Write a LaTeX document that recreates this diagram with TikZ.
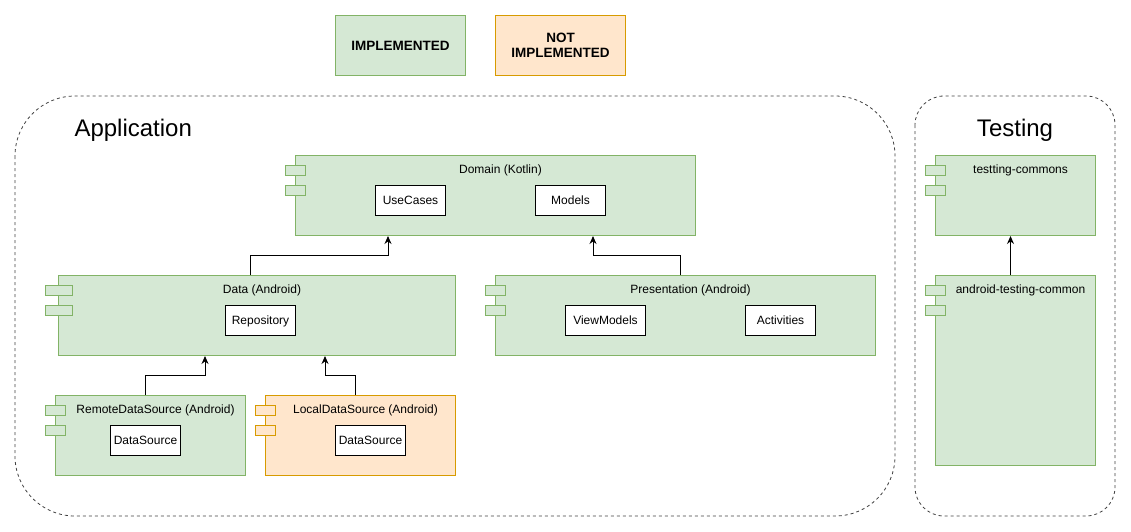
\documentclass[tikz,border=0pt]{standalone}
\usepackage{fontspec}
\setmainfont{Liberation Sans}
\usetikzlibrary{arrows.meta}
\definecolor{gfill}{HTML}{D5E8D4}
\definecolor{gline}{HTML}{82B366}
\definecolor{ofill}{HTML}{FFE6CC}
\definecolor{oline}{HTML}{D79B00}
\newcommand\mycomp[9]{%
  \node[compbox,#6,minimum width=#4,minimum height=#5] (#1) at (#2,#3) {};
  \draw[#6] (#7,#3+10) rectangle ++(#8,10);
  \draw[#6] (#7,#3+30) rectangle ++(#8,10);
  \node[ctitle] (#1-t) at ([xshift=5pt,yshift=-14pt]#1.north) {#9};
}
\begin{document}
\begin{tikzpicture}[x=1pt,y=-1pt,line width=1pt,
  font=\fontsize{12}{14}\selectfont,
  compbox/.style={draw,rectangle,anchor=north west,inner sep=0pt},
  green/.style={draw=gline,fill=gfill},
  orange/.style={draw=oline,fill=ofill},
  ctitle/.style={inner sep=0pt,text height=8.6pt,text depth=0pt},
  inbox/.style={draw=black,fill=white,rectangle,anchor=north west,inner sep=0pt,minimum height=30,text height=8.6pt,text depth=0pt},
  bigtitle/.style={inner sep=0pt,font=\fontsize{24}{28}\selectfont,text height=17.2pt,text depth=0pt},
  container/.style={draw=black!75,line width=0.8pt,dash pattern=on 3pt off 3pt},
  arr/.style={draw=black,line width=1pt,-{Stealth[length=8pt,width=7pt]}},
  legend/.style={rectangle,anchor=north west,inner sep=0pt,minimum width=130,minimum height=60,align=center,font=\fontsize{13.5}{15.5}\selectfont\bfseries}
]
\useasboundingbox (0,0) rectangle (1131,531);

% legend
\node[legend,green] (impl) at (335,15) {IMPLEMENTED};
\node[legend,orange] (notimpl) at (495,15) {NOT\\IMPLEMENTED};

% containers
\draw[container,rounded corners=60pt] (15,96) rectangle (895,516);
\draw[container,rounded corners=29pt] (915,96) rectangle (1115,516);
\node[bigtitle,anchor=west] (apptitle) at (74,127.5) {Application};
\node[bigtitle] (testtitle) at (1015,127.5) {Testing};

% components
\mycomp{domain}{295}{155}{400}{80}{green}{285}{20}{Domain (Kotlin)}
\node[inbox,minimum width=70] (usecases) at (375,185) {UseCases};
\node[inbox,minimum width=70] (models) at (535,185) {Models};

\mycomp{data}{58}{275}{397}{80}{green}{45}{27}{Data (Android)}
\node[inbox,minimum width=70] (repo) at (225,305) {Repository};

\mycomp{pres}{495}{275}{380}{80}{green}{485}{20}{Presentation (Android)}
\node[inbox,minimum width=80] (vm) at (565,305) {ViewModels};
\node[inbox,minimum width=70] (act) at (745,305) {Activities};

\mycomp{remote}{55}{395}{190}{80}{green}{45}{20}{RemoteDataSource (Android)}
\node[inbox,minimum width=70] (rds) at (110,425) {DataSource};

\mycomp{local}{265}{395}{190}{80}{orange}{255}{20}{LocalDataSource (Android)}
\node[inbox,minimum width=70] (lds) at (335,425) {DataSource};

\mycomp{tc}{935}{155}{160}{80}{green}{925}{20}{testting-commons}
\mycomp{atc}{935}{275}{160}{190}{green}{925}{20}{android-testing-common}

% connectors
\draw[arr] ([xshift=-6.5pt]data.north) -- ++(0,-20) -| ([xshift=93pt]domain.south west);
\draw[arr] ([xshift=185pt]pres.north west) -- ++(0,-20) -| ([xshift=298pt]domain.south west);
\draw[arr] ([xshift=-5pt]remote.north) -- ++(0,-20) -| ([xshift=147pt]data.south west);
\draw[arr] ([xshift=-5pt]local.north) -- ++(0,-20) -| ([xshift=267pt]data.south west);
\draw[arr] ([xshift=-5pt]atc.north) -- ([xshift=-5pt]tc.south);
\end{tikzpicture}
\end{document}
